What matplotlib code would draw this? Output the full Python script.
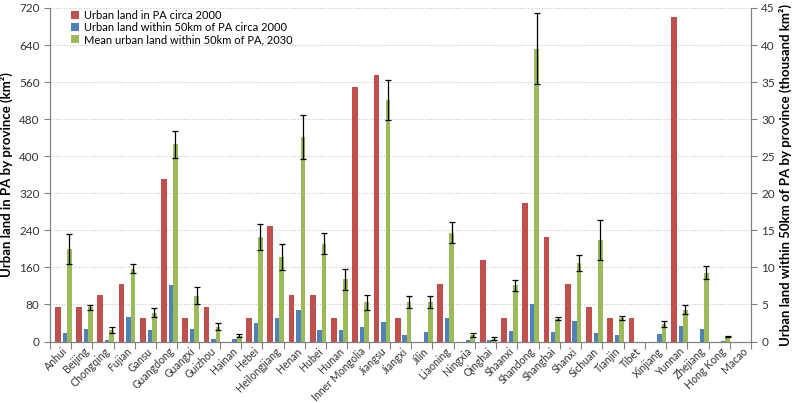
import matplotlib
matplotlib.use("Agg")
import matplotlib.pyplot as plt
import matplotlib.transforms as mtransforms
import numpy as np

provinces = ["Anhui", "Beijing", "Chongqing", "Fujian", "Gansu", "Guangdong", "Guangxi",
             "Guizhou", "Hainan", "Hebei", "Heilongjiang", "Henan", "Hubei", "Hunan",
             "Inner Mongolia", "Jiangsu", "Jiangxi", "Jilin", "Liaoning", "Ningxia",
             "Qinghai", "Shaanxi", "Shandong", "Shanghai", "Shanxi", "Sichuan", "Tianjin",
             "Tibet", "Xinjiang", "Yunnan", "Zhejiang", "Hong Kong", "Macao"]

# Urban land in PA circa 2000 (km2, left axis)
urban_pa_2000 = [75, 75, 100, 125, 50, 350, 50, 75, 0, 50, 250, 100, 100, 50,
                 550, 575, 50, 0, 125, 0, 175, 50, 300, 225, 125, 75, 50,
                 50, 0, 700, 0, 0, 0]

# Urban land within 50km of PA circa 2000 (thousand km2, right axis)
urban_50km_2000 = [1.1, 1.75, 0.25, 3.3, 1.5, 7.6, 1.75, 0.4, 0.3, 2.5, 3.2, 4.2, 1.5, 1.5,
                   1.9, 2.6, 0.9, 1.25, 3.2, 0.25, 0.15, 1.35, 5.1, 1.25, 2.75, 1.1, 0.9,
                   0.0, 1.0, 2.1, 1.7, 0.1, 0.0]

# Mean urban land within 50km of PA, 2030 (thousand km2, right axis) and error
urban_50km_2030 = [12.5, 4.6, 1.6, 9.8, 3.9, 26.6, 6.2, 2.0, 0.8, 14.1, 11.4, 27.6, 13.2, 8.4,
                   5.3, 32.6, 5.3, 5.3, 14.7, 0.9, 0.4, 7.6, 39.5, 3.1, 10.6, 13.7, 3.2,
                   0.0, 2.4, 4.3, 9.3, 0.7, 0.0]
err_2030 = [2.0, 0.3, 0.4, 0.6, 0.6, 1.8, 1.1, 0.45, 0.2, 1.7, 1.8, 3.0, 1.4, 1.4,
            1.0, 2.7, 0.8, 0.8, 1.4, 0.3, 0.15, 0.75, 4.8, 0.2, 1.1, 2.7, 0.3,
            0.0, 0.4, 0.6, 0.85, 0.05, 0.0]

left_ticks = list(range(0, 721, 80))
right_ticks = list(range(0, 46, 5))

red = "#C0504D"
blue = "#4F81BD"
green = "#9BBB59"

plt.rcParams['font.family'] = ['Lato', 'DejaVu Sans']

fig = plt.figure(figsize=(7.93, 4.03), dpi=100)
ax = fig.add_axes([50/793, 1-341.5/403, 701/793, 333.5/403])
ax2 = ax.twinx()

n = len(provinces)
x = np.arange(n)

ax.bar(x + 0.37, urban_pa_2000, width=0.27, color=red, zorder=3,
       label="Urban land in PA circa 2000")
ax2.bar(x + 0.695, urban_50km_2000, width=0.21, color=blue, zorder=3,
        label="Urban land within 50km of PA circa 2000")
mask = np.array(urban_50km_2030) > 0
ax2.bar(x + 0.905, urban_50km_2030, width=0.22, color=green, zorder=3,
        label="Mean urban land within 50km of PA, 2030")
ax2.errorbar((x + 0.905)[mask], np.array(urban_50km_2030)[mask], yerr=np.array(err_2030)[mask],
             fmt='none', ecolor='black', elinewidth=0.9, capsize=2.5, capthick=0.9, zorder=4)

ax.set_xlim(0, n)
ax.set_ylim(0, 720)
ax2.set_ylim(0, 45)
ax.set_yticks(left_ticks)
ax2.set_yticks(right_ticks)

ax.set_xticks(np.arange(n + 1))
ax.set_xticklabels([])
ax.set_xticks(x + 0.5, minor=True)
ax.set_xticklabels(provinces, minor=True, rotation=45, ha='right', rotation_mode='anchor',
                   fontsize=7.6)
ax.tick_params(axis='x', which='minor', length=0, pad=3)
ax.tick_params(axis='x', which='major', length=5, direction='out', color='#808080')
shift = mtransforms.ScaledTranslation(1.5/100, 0, fig.dpi_scale_trans)
for lab in ax.get_xticklabels(minor=True):
    lab.set_transform(lab.get_transform() + shift)

ax.grid(axis='y', linestyle=(0, (1, 1.5)), color='#c8c8c8', linewidth=0.8, zorder=0)
ax.set_axisbelow(True)

for a in (ax, ax2):
    a.spines['top'].set_visible(False)
    for s in ('left', 'right', 'bottom'):
        a.spines[s].set_color('#808080')
ax.tick_params(axis='y', length=4, color='#808080', labelsize=8.5, labelcolor='#333333')
ax2.tick_params(axis='y', length=4, color='#808080', labelsize=8.5, labelcolor='#333333')
ax.tick_params(axis='x', which='minor', labelcolor='#333333')

ax.set_ylabel("Urban land in PA by province (km²)", fontsize=9.5, fontweight='bold', labelpad=4)
ax2.set_ylabel("Urban land within 50km of PA by province (thousand km²)", fontsize=9.5,
               fontweight='bold', labelpad=3)

h1, l1 = ax.get_legend_handles_labels()
h2, l2 = ax2.get_legend_handles_labels()
leg = ax2.legend(h1 + h2, l1 + l2, loc='upper left', bbox_to_anchor=(0.022, 1.012),
                 frameon=False, fontsize=8, handlelength=0.75, handleheight=0.75,
                 handletextpad=0.4, labelspacing=0.12, borderaxespad=0.1)

fig.savefig("out.png", dpi=100)
